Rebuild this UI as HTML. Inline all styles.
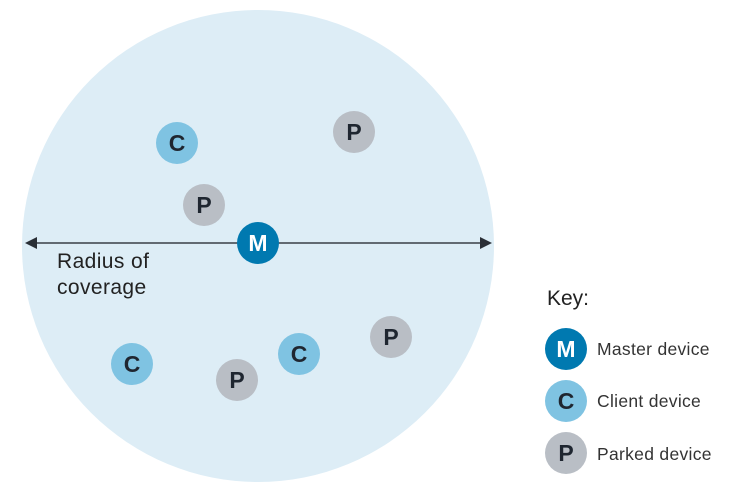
<!DOCTYPE html>
<html><head><style>body{margin:0;background:#fff}</style></head><body>
<svg width="731" height="495" xmlns="http://www.w3.org/2000/svg" font-family="Liberation Sans, sans-serif">
<circle cx="258" cy="246" r="236" fill="#ddedf6"/>
<line x1="34" y1="243" x2="482" y2="243" stroke="#3a3f46" stroke-width="1.5"/>
<polygon points="25,243 37,237 37,249" fill="#2a2f36"/>
<polygon points="492,243 480,237 480,249" fill="#2a2f36"/>
<text x="57" y="268" font-size="21" letter-spacing="0.4" fill="#222">Radius of</text>
<text x="57" y="294" font-size="21" letter-spacing="0.4" fill="#222">coverage</text>
<g font-weight="bold" font-size="23" text-anchor="middle" fill="#1f2630">
<circle cx="177" cy="143" r="21" fill="#7fc3e2"/><text x="177" y="151">C</text>
<circle cx="354" cy="132" r="21" fill="#b9bec5"/><text x="354" y="140">P</text>
<circle cx="204" cy="205" r="21" fill="#b9bec5"/><text x="204" y="213">P</text>
<circle cx="258" cy="243" r="21" fill="#0079b0"/><text x="258" y="251" fill="#fff">M</text>
<circle cx="391" cy="337" r="21" fill="#b9bec5"/><text x="391" y="345">P</text>
<circle cx="132" cy="364" r="21" fill="#7fc3e2"/><text x="132" y="372">C</text>
<circle cx="299" cy="354" r="21" fill="#7fc3e2"/><text x="299" y="362">C</text>
<circle cx="237" cy="380" r="21" fill="#b9bec5"/><text x="237" y="388">P</text>
<circle cx="566" cy="349" r="21" fill="#0079b0"/><text x="566" y="357" fill="#fff">M</text>
<circle cx="566" cy="401" r="21" fill="#7fc3e2"/><text x="566" y="409">C</text>
<circle cx="566" cy="453" r="21" fill="#b9bec5"/><text x="566" y="461">P</text>
</g>
<text x="547" y="305" font-size="21" fill="#222">Key:</text>
<g font-size="17.5" letter-spacing="0.3" fill="#333">
<text x="597" y="355">Master device</text>
<text x="597" y="407">Client device</text>
<text x="597" y="460">Parked device</text>
</g>
</svg>
</body></html>
